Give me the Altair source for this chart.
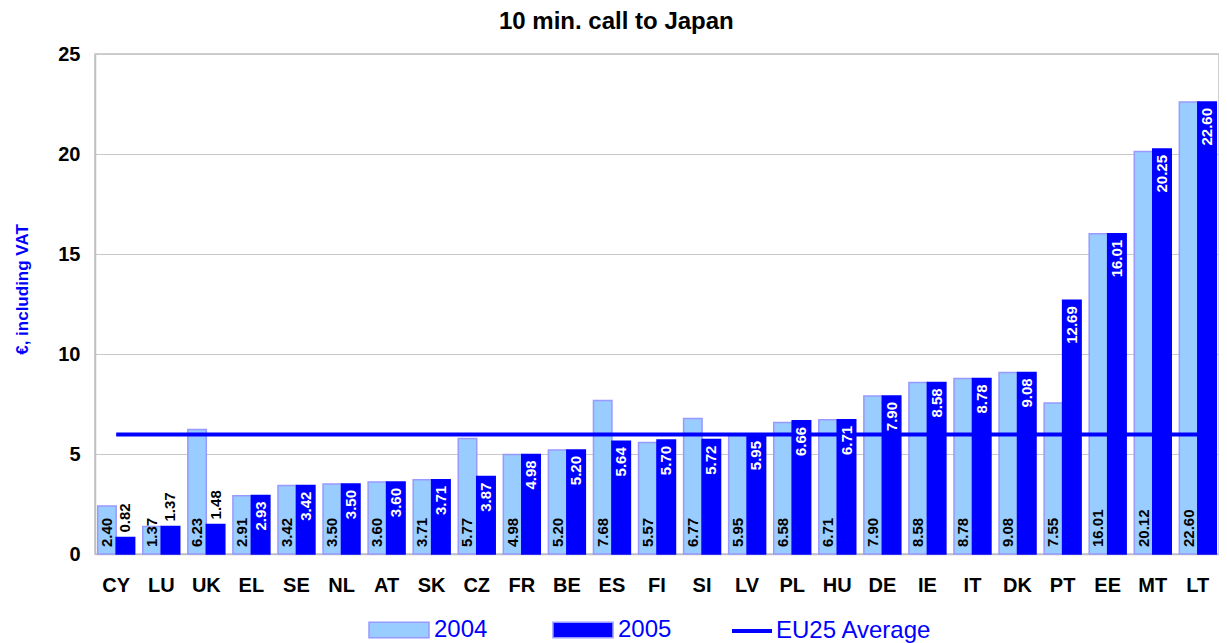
import altair as alt
import pandas as pd

countries = ["CY", "LU", "UK", "EL", "SE", "NL", "AT", "SK", "CZ", "FR", "BE", "ES", "FI",
             "SI", "LV", "PL", "HU", "DE", "IE", "IT", "DK", "PT", "EE", "MT", "LT"]
v2004 = [2.40, 1.37, 6.23, 2.91, 3.42, 3.50, 3.60, 3.71, 5.77, 4.98, 5.20, 7.68, 5.57,
         6.77, 5.95, 6.58, 6.71, 7.90, 8.58, 8.78, 9.08, 7.55, 16.01, 20.12, 22.60]
v2005 = [0.82, 1.37, 1.48, 2.93, 3.42, 3.50, 3.60, 3.71, 3.87, 4.98, 5.20, 5.64, 5.70,
         5.72, 5.95, 6.66, 6.71, 7.90, 8.58, 8.78, 9.08, 12.69, 16.01, 20.25, 22.60]
years = ["2004", "2005"]
eu25_avg = 5.98
y_ticks = [0, 5, 10, 15, 20, 25]

rows = []
for c, a, b in zip(countries, v2004, v2005):
    rows.append({"country": c, "year": "2004", "value": a})
    rows.append({"country": c, "year": "2005", "value": b})
df = pd.DataFrame(rows)
avg_df = pd.DataFrame({"country": countries,
                       "value": [eu25_avg] * len(countries),
                       "series": ["EU25 Average"] * len(countries)})

FONT = "Liberation Sans"

x = alt.X("country:N", sort=countries,
          scale=alt.Scale(paddingInner=0.18, paddingOuter=0.06),
          axis=alt.Axis(title=None, labelAngle=0, labelFontSize=20, labelFontWeight="bold",
                        labelColor="black", labelPadding=21, ticks=False, tickSize=0,
                        domainColor="#C0C0C0", domainWidth=1.5))
xo = alt.XOffset("year:N", scale=alt.Scale(domain=years))
y = alt.Y("value:Q", scale=alt.Scale(domain=[0, 25], nice=False),
          axis=alt.Axis(values=y_ticks, title="€, including VAT", titleColor="#0000FF",
                        titleFontSize=17, titleFontWeight="bold", titlePadding=26,
                        titleY=235, labelFontSize=20, labelFontWeight="bold",
                        labelColor="black", labelPadding=15, ticks=False, tickSize=0,
                        gridColor="#C8C8C8", domainColor="#C0C0C0", domainWidth=1.5))

bars = alt.Chart(df).mark_bar(strokeWidth=1.5).encode(
    x=x, xOffset=xo, y=y,
    fill=alt.Fill("year:N", scale=alt.Scale(domain=years, range=["#99CCFF", "#0000FF"]),
                  legend=alt.Legend(title=None, orient="none", direction="horizontal",
                                    legendX=273, legendY=545, padding=0,
                                    symbolType="M-1,-0.26L1,-0.26L1,0.26L-1,0.26Z",
                                    symbolSize=3600, symbolStrokeColor="#9999FF",
                                    symbolStrokeWidth=1.5, labelFontSize=24,
                                    labelColor="#0000FF", labelFont=FONT, labelOffset=4,
                                    columnPadding=62)),
    stroke=alt.condition(alt.datum.year == "2004", alt.value("#9999FF"), alt.value("#0000FF")),
)

line = alt.Chart(avg_df).mark_line(strokeWidth=4).encode(
    x=x, y=alt.Y("value:Q"),
    stroke=alt.Stroke("series:N", scale=alt.Scale(domain=["EU25 Average"], range=["#0000FF"]),
                      legend=alt.Legend(title=None, orient="none", legendX=635, legendY=555,
                                        padding=0, symbolType="stroke", symbolSize=1600,
                                        symbolStrokeWidth=4, labelFontSize=24,
                                        labelColor="#0000FF", labelFont=FONT, labelOffset=2)),
)

base_text = dict(angle=270, baseline="middle", fontSize=15, fontWeight="bold", font=FONT)

t2004 = alt.Chart(df).transform_filter(alt.datum.year == "2004").mark_text(
    align="left", dx=7, color="black", **base_text
).encode(x=x, xOffset=xo, y=alt.datum(0), text=alt.Text("value:Q", format=".2f"))

t2005_in = alt.Chart(df).transform_filter(
    (alt.datum.year == "2005") & (alt.datum.value >= 2)
).mark_text(align="right", dx=-6, color="white", **base_text).encode(
    x=x, xOffset=xo, y=alt.Y("value:Q"), text=alt.Text("value:Q", format=".2f"))

t2005_out = alt.Chart(df).transform_filter(
    (alt.datum.year == "2005") & (alt.datum.value < 2)
).mark_text(align="left", dx=5, color="black", **base_text).encode(
    x=x, xOffset=xo, y=alt.Y("value:Q"), text=alt.Text("value:Q", format=".2f"))

chart = alt.layer(bars, line, t2004, t2005_in, t2005_out).properties(
    width=1124, height=500,
    autosize=alt.AutoSizeParams(type="none"),
    padding={"left": 87, "top": 46, "right": 0, "bottom": 89},
    title=alt.TitleParams("10 min. call to Japan", fontSize=24, fontWeight="bold",
                          anchor="middle", frame="bounds", offset=10, font=FONT, color="black"),
).configure(font=FONT).configure_view(stroke="#C0C0C0", strokeWidth=1.5)

chart.save("out.html", embed_options={"renderer": "svg", "actions": False})
